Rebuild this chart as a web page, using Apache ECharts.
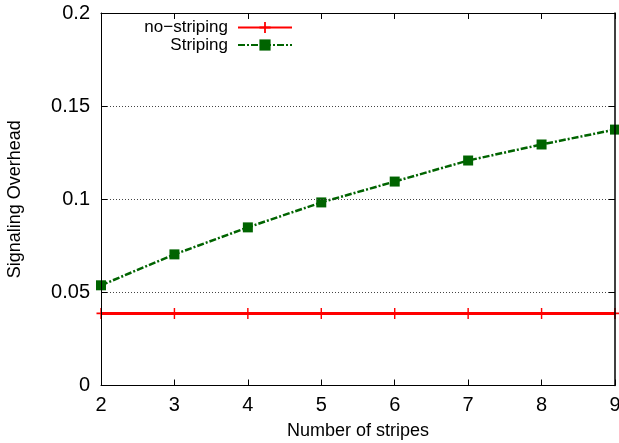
<!DOCTYPE html>
<html><head><meta charset="utf-8">
<script src="https://cdn.jsdelivr.net/npm/echarts@6/dist/echarts.min.js"></script>
<style>html,body{margin:0;padding:0;background:#fff}#c{width:619px;height:443px}</style>
</head><body><div id="c"></div>
<script>
const stripes = [2, 3, 4, 5, 6, 7, 8, 9];
const noStriping = [0.0387, 0.0387, 0.0387, 0.0387, 0.0387, 0.0387, 0.0387, 0.0387];
const striping = [0.0538, 0.0704, 0.0849, 0.0983, 0.1095, 0.1208, 0.1294, 0.1374];
const xTicks = [2, 3, 4, 5, 6, 7, 8, 9];
const yTicks = [0, 0.05, 0.1, 0.15, 0.2];

const font = 'Liberation Sans, Arial, Helvetica, sans-serif';
const plus = 'path://M-1,-0.16H1V0.16H-1Z M-0.16,-1H0.16V1H-0.16Z';
const chart = echarts.init(document.getElementById('c'), null, {renderer: 'canvas'});
chart.setOption({
  animation: false,
  backgroundColor: '#fff',
  grid: {left: 101, right: 4, top: 13, bottom: 57.5, containLabel: false, outerBoundsMode: 'none', show: false},
  legend: {
    orient: 'vertical', align: 'right', right: 321, top: 14, itemGap: 0.5,
    itemWidth: 54, itemHeight: 14,
    textStyle: {fontFamily: font, fontSize: 17, lineHeight: 17, color: '#000', padding: [0, 5, 0, 0]},
    data: ['no\u2212striping', 'Striping']
  },
  xAxis: [{
    type: 'value', min: 2, max: 9, interval: 1,
    name: 'Number of stripes', nameLocation: 'middle', nameGap: 37,
    nameTextStyle: {fontFamily: font, fontSize: 18, color: '#000'},
    axisLine: {show: true, onZero: false, lineStyle: {color: '#000', width: 1}},
    axisTick: {show: true, inside: true, length: 6, lineStyle: {color: '#000'}},
    axisLabel: {fontFamily: font, fontSize: 20, color: '#000', margin: 10,
      formatter: v => xTicks.includes(v) ? String(v) : ''},
    splitLine: {show: false}, z: 5
  }, {
    type: 'value', position: 'top', min: 2, max: 9, interval: 1,
    axisLine: {show: true, onZero: false, lineStyle: {color: '#000', width: 1}},
    axisTick: {show: true, inside: true, length: 6, lineStyle: {color: '#000'}},
    axisLabel: {show: false}, splitLine: {show: false}, z: 5
  }],
  yAxis: [{
    type: 'value', min: 0, max: 0.2, interval: 0.05,
    name: 'Signaling Overhead', nameLocation: 'middle', nameGap: 77, nameRotate: 90,
    nameTextStyle: {fontFamily: font, fontSize: 18, color: '#000'},
    axisLine: {show: true, onZero: false, lineStyle: {color: '#000', width: 1}},
    axisTick: {show: true, inside: true, length: 6, lineStyle: {color: '#000'}},
    axisLabel: {fontFamily: font, fontSize: 20, color: '#000', margin: 11,
      formatter: v => { const t = yTicks.find(y => Math.abs(y - v) < 1e-9); return t === undefined ? '' : String(t); }},
    splitLine: {show: true, lineStyle: {color: '#444', width: 1, type: [1, 2]}}, z: 5
  }, {
    type: 'value', position: 'right', min: 0, max: 0.2, interval: 0.05,
    axisLine: {show: true, onZero: false, lineStyle: {color: '#000', width: 1.5}},
    axisTick: {show: true, inside: true, length: 6, lineStyle: {color: '#000'}},
    axisLabel: {show: false}, splitLine: {show: false}, z: 5
  }],
  series: [{
    name: 'no\u2212striping', type: 'line',
    data: stripes.map((x, i) => [x, noStriping[i]]),
    color: '#ff0000',
    lineStyle: {color: '#ff0000', width: 3},
    symbol: plus, symbolSize: [9, 11],
    itemStyle: {color: '#ff0000'},
    z: 3
  }, {
    name: 'Striping', type: 'line',
    data: stripes.map((x, i) => [x, striping[i]]),
    color: '#006400',
    lineStyle: {color: '#006400', width: 2.5, type: [7, 2, 2, 2]},
    symbol: 'rect', symbolSize: 10,
    itemStyle: {color: '#006400'},
    z: 4
  }]
});
</script></body></html>
